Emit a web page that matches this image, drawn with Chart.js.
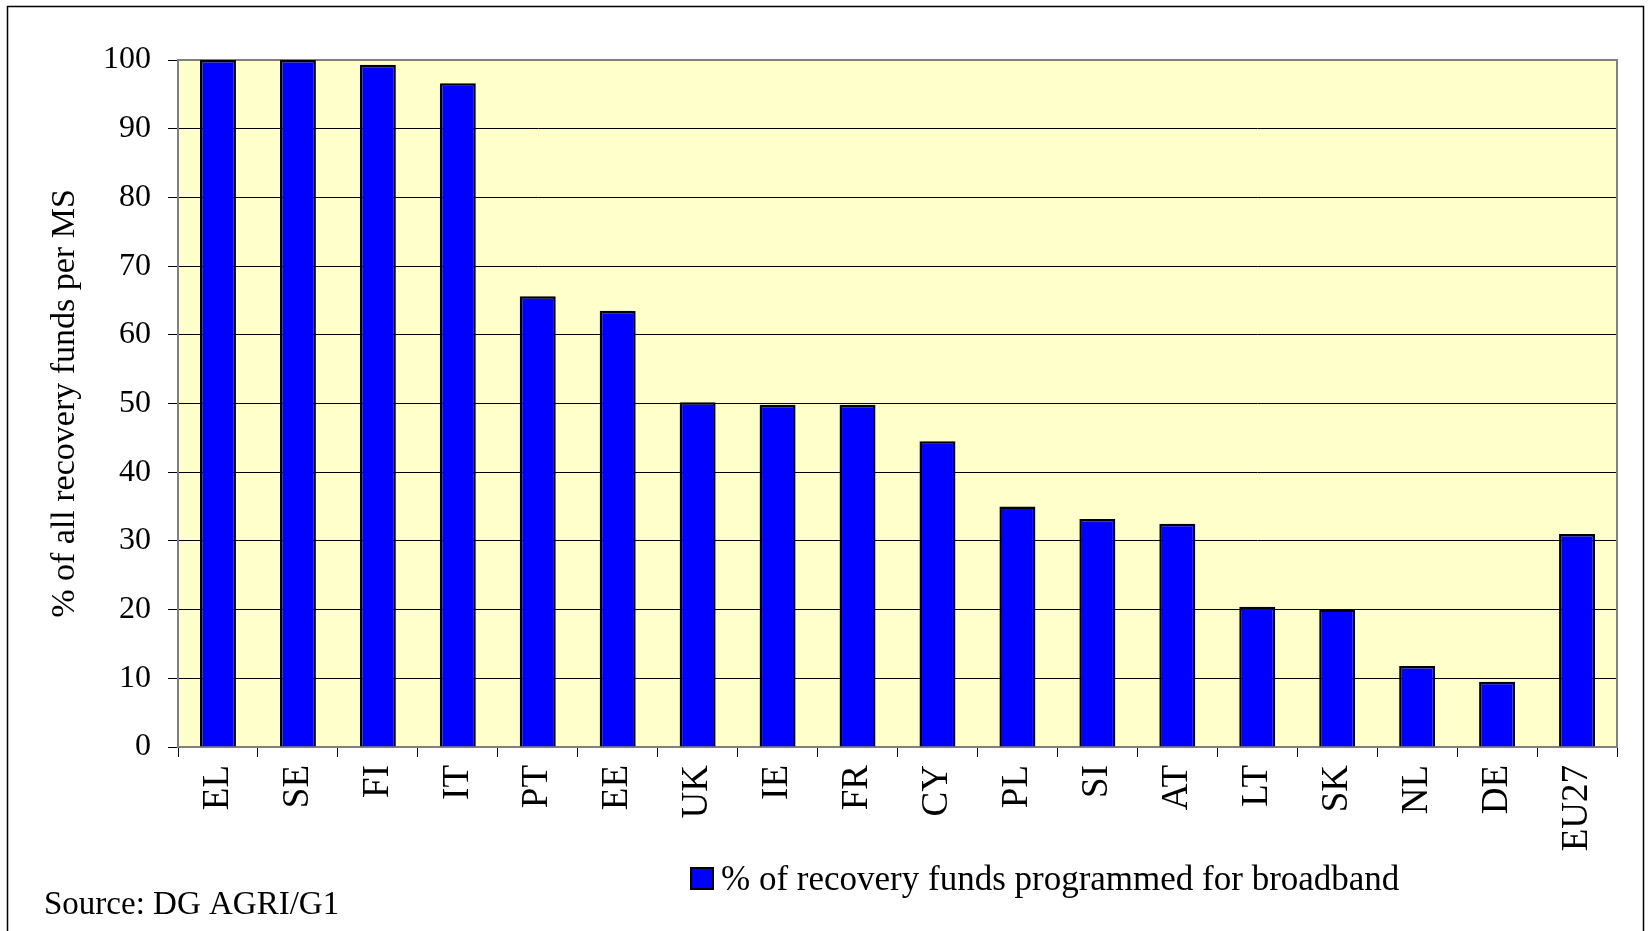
<!DOCTYPE html>
<html>
<head>
<meta charset="utf-8">
<script src="https://cdn.jsdelivr.net/npm/chart.js@4"></script>
<style>
  html, body { margin: 0; padding: 0; background: #fff; }
  canvas { display: block; }
</style>
</head>
<body>
<canvas id="chart" width="1648" height="931"></canvas>
<script>
const countries = ['EL', 'SE', 'FI', 'IT', 'PT', 'EE', 'UK', 'IE', 'FR', 'CY', 'PL', 'SI', 'AT', 'LT', 'SK', 'NL', 'DE', 'EU27'];
const broadbandShare = [100, 100, 99.3, 96.6, 65.6, 63.5, 50.2, 49.8, 49.8, 44.5, 35.0, 33.2, 32.5, 20.4, 20.0, 11.8, 9.5, 31.0];
const seriesLabel = '% of recovery funds programmed for broadband';
const axisTitle = '% of all recovery funds per MS';
const sourceText = 'Source: DG AGRI/G1';

const serif = "'Liberation Serif', 'Times New Roman', serif";

// plot background, plot border, outer frame, legend and source note
const decorations = {
    id: 'decorations',
    beforeDraw(chart) {
        const { ctx, chartArea: a } = chart;
        ctx.save();
        ctx.fillStyle = '#ffffcc';
        ctx.fillRect(a.left, a.top, a.right - a.left, a.bottom - a.top);
        ctx.restore();
    },
    beforeDatasetsDraw(chart) {
        const { ctx, chartArea: a } = chart;
        ctx.save();
        ctx.strokeStyle = '#808080';
        ctx.lineWidth = 2;
        ctx.strokeRect(a.left, a.top, a.right - a.left, a.bottom - a.top);
        ctx.restore();
    },
    afterDraw(chart) {
        const { ctx } = chart;
        ctx.save();
        ctx.strokeStyle = '#000';
        ctx.lineWidth = 1.5;
        ctx.strokeRect(7.5, 6.5, 1636, 940);

        const ds = chart.data.datasets[0];
        ctx.fillStyle = ds.backgroundColor;
        ctx.fillRect(691, 868, 22, 21);
        ctx.strokeStyle = '#000';
        ctx.lineWidth = 2;
        ctx.strokeRect(691, 868, 22, 21);

        ctx.fillStyle = '#000';
        ctx.font = `35px ${serif}`;
        ctx.textBaseline = 'alphabetic';
        ctx.textAlign = 'left';
        ctx.fillText(ds.label, 721, 890);
        ctx.font = `33px ${serif}`;
        ctx.fillText(sourceText, 44, 914);
        ctx.restore();
    }
};

const chart = new Chart(document.getElementById('chart'), {
    type: 'bar',
    data: {
        labels: countries,
        datasets: [{
            label: seriesLabel,
            data: broadbandShare,
            backgroundColor: '#0000ff',
            borderColor: '#000000',
            borderWidth: 2.5,
            barPercentage: 0.45,
            categoryPercentage: 1
        }]
    },
    options: {
        responsive: false,
        animation: false,
        layout: { padding: { left: 0, top: 60, right: 31, bottom: 0 } },
        plugins: {
            legend: { display: false },
            tooltip: { enabled: false }
        },
        scales: {
            x: {
                afterFit: (scale) => { scale.height = 184; },
                grid: {
                    drawOnChartArea: false,
                    drawTicks: true,
                    tickLength: 10,
                    color: '#000'
                },
                border: { color: '#808080', width: 2 },
                ticks: {
                    autoSkip: false,
                    minRotation: 90,
                    maxRotation: 90,
                    padding: 8,
                    color: '#000',
                    font: { family: serif, size: 37 }
                }
            },
            y: {
                min: 0,
                max: 100,
                afterFit: (scale) => { scale.width = 178; },
                grid: {
                    color: '#000',
                    lineWidth: 1,
                    tickLength: 10
                },
                border: { color: '#808080', width: 2 },
                ticks: {
                    stepSize: 10,
                    padding: 17,
                    color: '#000',
                    font: { family: serif, size: 32 }
                },
                title: {
                    display: true,
                    text: axisTitle,
                    color: '#000',
                    padding: { top: 45, bottom: 0 },
                    font: { family: serif, size: 34 }
                }
            }
        }
    },
    plugins: [decorations]
});
</script>
</body>
</html>
